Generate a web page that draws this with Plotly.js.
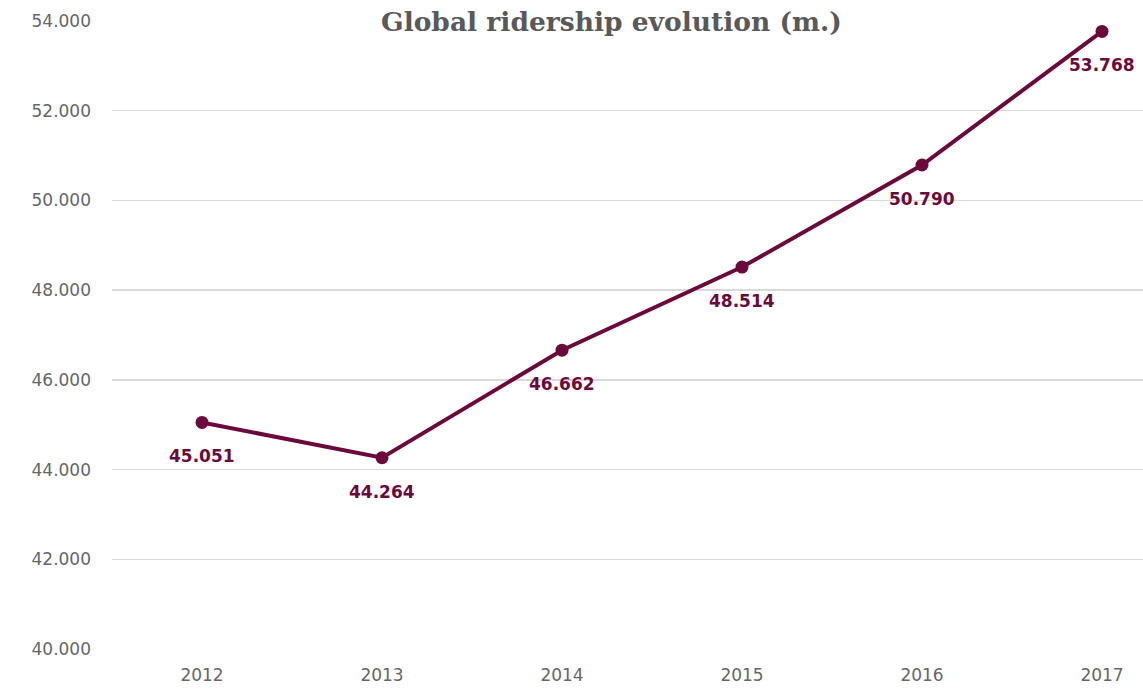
<!DOCTYPE html>
<html><head><meta charset="utf-8">
<script src="https://cdn.plot.ly/plotly-3.0.1.min.js"></script>
<style>html,body{margin:0;padding:0;background:#fff;}#chart{width:1143px;height:689px;}</style>
</head><body><div id="chart"></div>
<script>
const years = ['2012','2013','2014','2015','2016','2017'];
const ridership = [45051, 44264, 46662, 48514, 50790, 53768];
const valueLabels = ['45.051','44.264','46.662','48.514','50.790','53.768'];
const yTicks = [40000, 42000, 44000, 46000, 48000, 50000, 52000, 54000];
const yTickLabels = ['40.000','42.000','44.000','46.000','48.000','50.000','52.000','54.000'];
const titleText = 'Global ridership evolution (m.)';

const lineColor = '#6b0a3a';
const W = 1143, H = 689, ml = 112, mr = 0, mt = 21, mb = 40;
const pw = W - ml - mr, ph = H - mt - mb;

const trace = {
  x: years, y: ridership, type: 'scatter', mode: 'lines+markers',
  line: {color: lineColor, width: 4},
  marker: {color: lineColor, size: 13},
  hoverinfo: 'skip'
};
const annotations = years.map((yr, i) => ({
  x: i, y: ridership[i], xref: 'x', yref: 'y', text: '<b>' + valueLabels[i] + '</b>',
  showarrow: false, yshift: -34,
  font: {family: 'DejaVu Sans', size: 17, color: lineColor}
}));
annotations.push({
  x: (611 - ml) / pw, xref: 'paper', y: 1, yref: 'paper', yanchor: 'middle',
  text: '<b>' + titleText + '</b>',
  showarrow: false, bgcolor: '#ffffff', borderpad: 3,
  font: {family: 'DejaVu Serif', size: 26.5, color: '#595959'}
});

const layout = {
  width: W, height: H,
  margin: {l: ml, r: mr, t: mt, b: mb},
  paper_bgcolor: '#fff', plot_bgcolor: '#fff',
  showlegend: false,
  xaxis: {
    type: 'category', range: [-0.5, -0.5 + pw / 180],
    showgrid: false, zeroline: false, showline: false, ticks: '',
    tickfont: {family: 'DejaVu Sans', size: 17, color: '#666666'},
    ticklabelstandoff: 14
  },
  yaxis: {
    range: [40000, 54000], tickvals: yTicks, ticktext: yTickLabels,
    showgrid: true, gridcolor: '#d9d9d9', gridwidth: 1.3, zeroline: false, showline: false, ticks: '',
    tickfont: {family: 'DejaVu Sans', size: 17, color: '#666666'},
    ticklabelstandoff: 20
  },
  annotations: annotations
};
Plotly.newPlot('chart', [trace], layout, {displayModeBar: false, staticPlot: true});
</script></body></html>
